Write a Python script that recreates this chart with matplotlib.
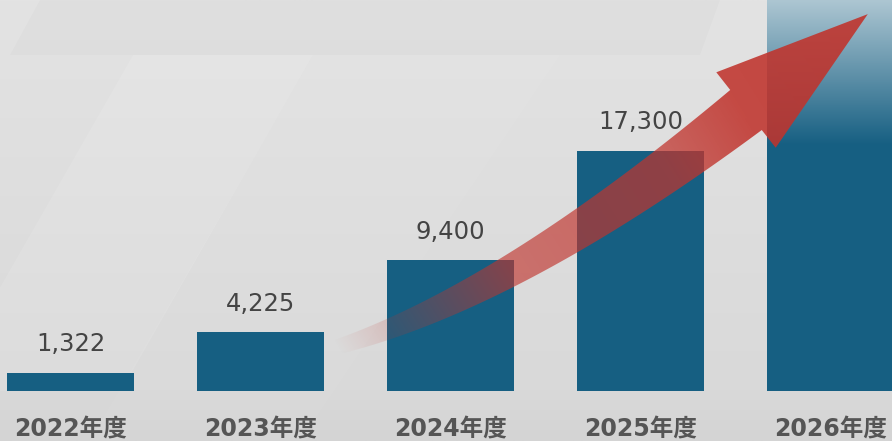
import numpy as np
import matplotlib
matplotlib.use("Agg")
import matplotlib.pyplot as plt
from matplotlib.patches import Polygon
from matplotlib.colors import to_rgb

# --- DONNEES ---
years = ["2022年度", "2023年度", "2024年度", "2025年度", "2026年度"]
values = [1322, 4225, 9400, 17300, 30000]   # 2026 : dépasse le cadre, pas d'étiquette
labels = ["1,322", "4,225", "9,400", "17,300", None]

# --- STYLE ---
W, H = 892, 441
BASE_PX = 391
YMAX = 28150
BAR_COLOR = "#165f82"
BAR_TOP_LIGHT = "#adc6d2"
ARROW_RGB = (192 / 255, 52 / 255, 45 / 255)
FONTS = ["DejaVu Sans", "Noto Sans CJK JP"]

fig = plt.figure(figsize=(W / 100, H / 100), dpi=100)

# fond : dégradé gris + bandes obliques claires
bg = fig.add_axes([0, 0, 1, 1], zorder=0)
bg.set_xlim(0, W)
bg.set_ylim(H, 0)
bg.axis("off")
yy = np.linspace(0, 1, 200)[:, None]
shade = np.interp(yy, [0, BASE_PX / H, 1], [227, 217, 212]) / 255
grad = np.repeat(shade, 2, axis=1)
bg.imshow(np.dstack([grad, grad, grad]), extent=[0, W, H, 0], aspect="auto")
bg.add_patch(Polygon([[40, 0], [720, 0], [700, 55], [10, 55]], closed=True,
                     facecolor="black", alpha=0.015, lw=0))
bg.add_patch(Polygon([[133, 55], [313, 55], [121, 391], [-59, 391]], closed=True,
                     facecolor="white", alpha=0.10, lw=0))
bg.add_patch(Polygon([[313, 55], [560, 55], [300, 441], [90, 441]], closed=True,
                     facecolor="white", alpha=0.04, lw=0))

# barres
ax = fig.add_axes([0, (H - BASE_PX) / H, 1, BASE_PX / H], zorder=1)
ax.patch.set_alpha(0)
x = np.arange(len(years))
bars = ax.bar(x, values, width=0.668, color=BAR_COLOR, zorder=2)

# dégradé en haut de la barre 2026
last = bars[-1]
x0, x1 = last.get_x(), last.get_x() + last.get_width()
g_lo = (BASE_PX - 145) / BASE_PX * YMAX
t = np.linspace(0, 1, 200)[:, None]
c_dark, c_light = np.array(to_rgb(BAR_COLOR)), np.array(to_rgb(BAR_TOP_LIGHT))
col = c_dark[None, None, :] * (1 - t[:, :, None]) + c_light[None, None, :] * t[:, :, None]
col = np.repeat(col, 2, axis=1)
im = ax.imshow(col, extent=[x0, x1, g_lo, YMAX], origin="lower", aspect="auto", zorder=3)
im.set_clip_path(last)

for xi, v, lab in zip(x, values, labels):
    if lab:
        ax.annotate(lab, (xi, v), xytext=(0, 12), textcoords="offset points",
                    ha="center", va="bottom", fontsize=17.5, color="#444444",
                    family=FONTS)
    ax.text(xi, -(436 - BASE_PX) / BASE_PX, years[xi], transform=ax.get_xaxis_transform(),
            ha="center", va="baseline", fontsize=17, fontweight="bold",
            color="#555555", family=FONTS)

ax.set_xlim(-0.371, 4.324)
ax.set_ylim(0, YMAX)
ax.axis("off")

# flèche rouge courbe (décor)
ov = fig.add_axes([0, 0, 1, 1], zorder=2)
ov.set_xlim(0, W)
ov.set_ylim(H, 0)
ov.axis("off")
ov.patch.set_alpha(0)

P0, P1, P2 = np.array([337, 347.]), np.array([511, 295.]), np.array([746, 110.])
ts = np.linspace(0, 1, 80)[:, None]
pts = (1 - ts) ** 2 * P0 + 2 * (1 - ts) * ts * P1 + ts ** 2 * P2
tang = 2 * (1 - ts) * (P1 - P0) + 2 * ts * (P2 - P1)
tang /= np.linalg.norm(tang, axis=1, keepdims=True)
nrm = np.column_stack([-tang[:, 1], tang[:, 0]])
wid = (15 + 36 * ts) / 2
side_a = pts + nrm * wid
side_b = pts - nrm * wid
d_end, n_end = tang[-1], nrm[-1]
tip = P2 + d_end * 155
head = [P2 + n_end * 48, tip, P2 - n_end * 48]
poly = np.vstack([side_a, head, side_b[::-1]])
arrow = Polygon(poly, closed=True, facecolor="none", edgecolor="none")
ov.add_patch(arrow)

gx, gy = np.meshgrid(np.arange(W) + 0.5, np.arange(H) + 0.5)
axis_vec = tip - P0
u = ((gx - P0[0]) * axis_vec[0] + (gy - P0[1]) * axis_vec[1]) / (axis_vec @ axis_vec)
alpha = np.interp(u, [0, 0.08, 0.3, 0.6, 0.75, 1], [0, 0.15, 0.64, 0.72, 0.88, 0.9])
rgba = np.zeros((H, W, 4))
rgba[..., :3] = ARROW_RGB
rgba[..., 3] = alpha
im2 = ov.imshow(rgba, extent=[0, W, H, 0], aspect="auto", interpolation="nearest")
im2.set_clip_path(arrow)

fig.savefig("out.png", dpi=100)
